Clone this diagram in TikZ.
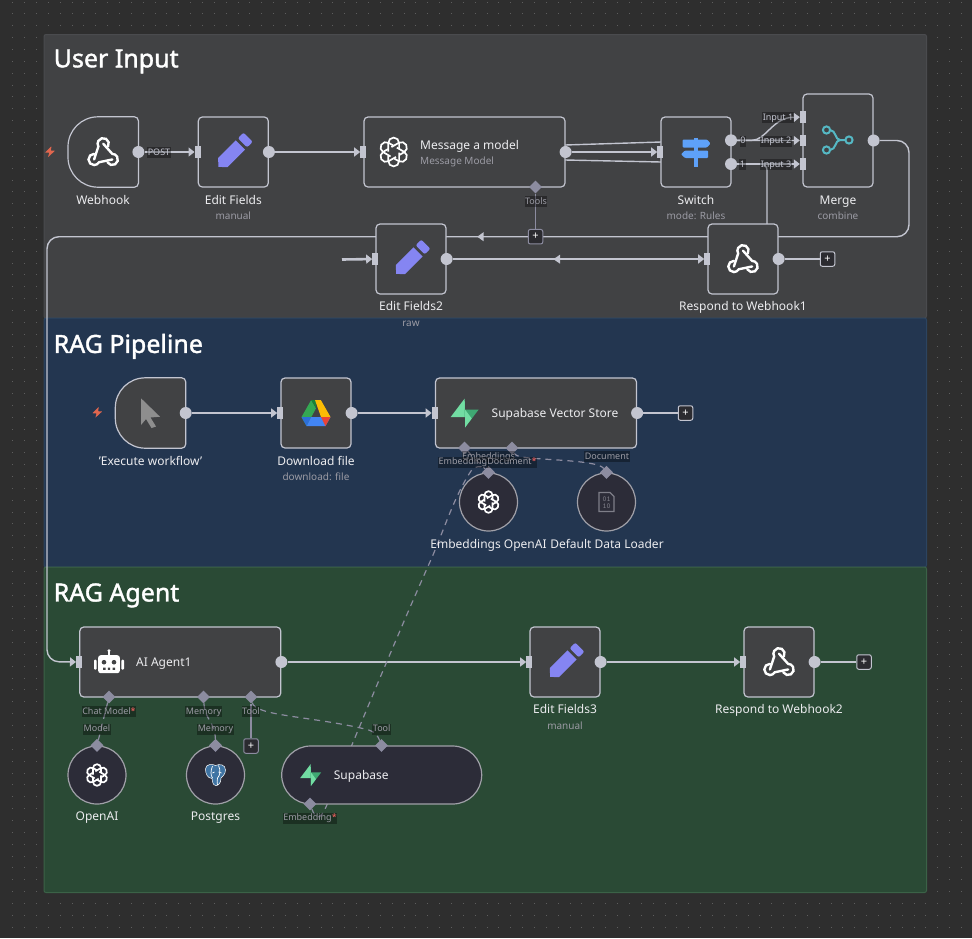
\documentclass[tikz,border=0pt]{standalone}
\usepackage{fontspec}
\setmainfont{Noto Sans}
\newfontfamily\titlefont[FakeBold=1.5]{Noto Sans}
\usetikzlibrary{arrows.meta,shapes.geometric,calc}
\definecolor{canvasc}{HTML}{2E2E2E}
\definecolor{dotc}{HTML}{5E5E5E}
\definecolor{greyp}{HTML}{414244}
\definecolor{bluep}{HTML}{233650}
\definecolor{greenp}{HTML}{2A4A35}
\definecolor{greyb}{HTML}{4A4B4E}
\definecolor{blueb}{HTML}{2C4460}
\definecolor{greenb}{HTML}{3B6247}
\definecolor{linec}{HTML}{C3C5D0}
\definecolor{subc}{HTML}{9B9BA4}
\definecolor{txtc}{HTML}{ECECEF}
\definecolor{auxc}{HTML}{8C8CA0}
\definecolor{circc}{HTML}{2C2C38}
\definecolor{circb}{HTML}{A0A0A8}
\definecolor{plusc}{HTML}{2B2B30}
\definecolor{pencilc}{HTML}{8585F2}
\definecolor{signc}{HTML}{5EA1F9}
\definecolor{mergec}{HTML}{55B8C4}
\definecolor{boltc}{HTML}{E0664E}
\definecolor{sbl}{HTML}{72DDA3}
\definecolor{sbd}{HTML}{3FA873}
\definecolor{pgc}{HTML}{3F74A3}
\definecolor{cursc}{HTML}{8E8E8E}
\definecolor{binc}{HTML}{7E7E88}
\definecolor{starc}{HTML}{FF6262}
\definecolor{drg}{HTML}{34A853}
\definecolor{drgd}{HTML}{188038}
\definecolor{dry}{HTML}{FBBC04}
\definecolor{drb}{HTML}{4285F4}
\definecolor{drr}{HTML}{EA4335}
\definecolor{drbd}{HTML}{2D6FD8}
\pgfdeclarelayer{panelzone}
\pgfdeclarelayer{flowzone}
\pgfdeclarelayer{topzone}
\pgfsetlayers{panelzone,flowzone,main,topzone}
\newcommand{\triggershape}[1]{\draw[shapeline] ($(#1.north east)+(-4,0)$) arc[start angle=90,end angle=0,radius=4pt] -- ($(#1.south east)+(0,-4)$) arc[start angle=0,end angle=-90,radius=4pt] -- ($(#1.south west)+(30,0)$) arc[start angle=270,end angle=180,radius=30pt] -- ($(#1.north west)+(0,30)$) arc[start angle=180,end angle=90,radius=30pt] -- cycle;}
\tikzset{
  x=1pt,y=-1pt,
  panel/.style={line width=1pt,rounded corners=2pt},
  paneltitle/.style={anchor=west,inner sep=0,yshift=-2.4pt,text=white,font=\titlefont\fontsize{25}{28}\selectfont},
  card/.style={rectangle,draw=linec,line width=1.2pt,fill=greyp,rounded corners=4pt,minimum width=70pt,minimum height=70pt,inner sep=0},
  ghost/.style={rectangle,minimum width=70pt,minimum height=70pt,inner sep=0},
  shapeline/.style={draw=linec,line width=1.2pt,fill=greyp},
  roundnode/.style={circle,draw=circb,line width=1.2pt,fill=circc,minimum size=58pt,inner sep=0},
  outport/.style={circle,fill=linec,minimum size=12pt,inner sep=0},
  inport/.style={rectangle,fill=linec,minimum width=6pt,minimum height=11.5pt,inner sep=0},
  auxport/.style={diamond,fill=auxc,minimum width=13pt,minimum height=13pt,inner sep=0},
  plusbox/.style={rectangle,draw=linec,line width=1pt,fill=plusc,rounded corners=2pt,minimum size=14.5pt,inner sep=0,text=white,font=\fontsize{11}{11}\selectfont},
  flow/.style={draw=linec,line width=1.4pt},
  flowarrow/.style={flow,-{Triangle[length=6pt,width=9pt,fill=linec]}},
  thickflow/.style={draw=linec,line width=2.6pt,-{Triangle[length=6pt,width=9pt,fill=linec]}},
  auxsolid/.style={draw=auxc,line width=1.3pt},
  auxdash/.style={draw=auxc,line width=1.2pt,dash pattern=on 6pt off 5pt},
  lbl/.style={inner sep=0,text height=8.6pt,text depth=0pt,text=txtc,font=\fontsize{12}{14}\selectfont},
  sublbl/.style={inner sep=0,text height=7.2pt,text depth=0pt,text=subc,font=\fontsize{10}{12}\selectfont},
  portlab/.style={inner xsep=0.5pt,inner ysep=1pt,text height=7pt,text depth=2pt,yshift=-0.7pt,fill=black,fill opacity=.35,text opacity=1,text=subc,font=\fontsize{9}{10}\selectfont},
  flowlab/.style={inner xsep=0.5pt,inner ysep=1pt,text height=7pt,text depth=2pt,yshift=-0.7pt,fill=black,fill opacity=.35,text opacity=1,text=linec,font=\fontsize{9}{10}\selectfont},
  webicon/.pic={
    \foreach \a in {0,120,240}{
      \begin{scope}[shift={(0,2.2)},rotate=\a]
        \draw[white,line width=2.4pt,line cap=round] (4.85,-7.7) arc[start angle=-30,end angle=210,radius=5.6pt] -- (-9.1,5.25);
      \end{scope}
    }
  },
  pencilicon/.pic={
    \begin{scope}[rotate=45]
      \fill[pencilc] (-21,0) -- (-15,-6.5) -- (10,-6.5) -- (10,6.5) -- (-15,6.5) -- cycle;
      \fill[pencilc,rounded corners=2pt] (13,-6.5) -- (21,-6.5) -- (21,6.5) -- (13,6.5) -- cycle;
    \end{scope}
  },
  knoticon/.pic={
    \foreach \a in {0,60,120,180,240,300}{
      \begin{scope}[rotate=\a]
        \draw[white,line width=1.7pt] (-5.4,-0.5) -- (-5.4,-9) arc[start angle=180,end angle=0,radius=5.4pt] -- (5.4,-3.5);
      \end{scope}
    }
  },
  signicon/.pic={
    \fill[signc] (-1.7,-14.5) rectangle (1.7,14.5);
    \fill[signc,rounded corners=1pt] (-13.5,-12.5) -- (11,-12.5) -- (14.5,-8.5) -- (11,-4.5) -- (-13.5,-4.5) -- cycle;
    \fill[signc,rounded corners=1pt] (12,-1.5) -- (-11,-1.5) -- (-15,2.3) -- (-11,6) -- (12,6) -- cycle;
  },
  mergeicon/.pic={
    \draw[mergec,line width=2pt] (-11.5,-10) circle[radius=3.6pt] (-11.5,10) circle[radius=3.6pt] (11,0) circle[radius=3.6pt];
    \draw[mergec,line width=2pt] (-8,-10) .. controls (-2,-10) and (-3,0) .. (2,0) -- (7.4,0);
    \draw[mergec,line width=2pt] (-8,10) .. controls (-2,10) and (-3,0) .. (2,0);
  },
  sbicon/.pic={
    \fill[sbl] (0,-14.5) -- (-14,4) -- (0.3,4) -- cycle;
    \fill[sbd] (0,-14.5) -- (0,4) -- (0.3,4) -- (0.3,-3.5) -- (0,-3.5) -- cycle;
    \fill[sbd] (0.3,14.5) -- (14,-3.5) -- (0.3,-3.5) -- cycle;
    \fill[sbl] (0.3,14.5) -- (7,5.5) -- (0.3,-3.5) -- cycle;
  },
  cursoricon/.pic={
    \fill[cursc] (-9.5,-14.7) -- (9.5,3.7) -- (0,4.5) -- (5.5,13.5) -- (1,15) -- (-4.5,6) -- (-9.5,12) -- cycle;
  },
  driveicon/.pic={
    \fill[drg] (-4.8,-13) -- (0,-4.7) -- (-9.5,13) -- (-14.5,4) -- cycle;
    \fill[drgd] (-4.8,-13) -- (0,-13) -- (0,-4.7) -- cycle;
    \fill[dry] (-1,-13) -- (4.8,-13) -- (14.5,4) -- (5,4) -- cycle;
    \fill[drb] (-5,4) -- (14.5,4) -- (9.5,13) -- (-9.5,13) -- cycle;
    \fill[drr] (5,4) -- (14.5,4) -- (9.5,13) -- cycle;
    \fill[drbd] (-14.5,4) -- (-5,4) -- (-9.5,13) -- cycle;
  },
  roboticon/.pic={
    \fill[white,rounded corners=2.5pt] (-10.8,-6.5) rectangle (10.8,11.5);
    \fill[white] (-1,-11) rectangle (1,-5);
    \fill[white] (0,-11) circle[radius=1.6pt];
    \fill[white,rounded corners=1pt] (-15,-2) rectangle (-12.3,8);
    \fill[white,rounded corners=1pt] (12.3,-2) rectangle (15,8);
    \fill[greyp] (-5,0.5) circle[radius=2.3pt] (5,0.5) circle[radius=2.3pt];
    \fill[greyp] (-6,6) rectangle (-3.5,8.2) (-1.2,6) rectangle (1.2,8.2) (3.5,6) rectangle (6,8.2);
  },
  pgicon/.pic={
    \filldraw[fill=pgc,draw=white,line width=.5pt] (-10,-6) .. controls (-10,-11) and (-3,-11.5) .. (0,-9.5) .. controls (4,-11.5) and (10,-10.5) .. (10,-5) .. controls (10,0) and (6,2) .. (5.5,3) .. controls (5.5,8) and (3,10.5) .. (0.5,10.5) .. controls (-3,10.5) and (-3,6) .. (-3.5,3.5) .. controls (-8,3) and (-10,-1) .. (-10,-6) -- cycle;
    \draw[white,line width=.7pt] (-3,-9) .. controls (-5,-4) and (-5,0) .. (-3,3) (3,-9.5) .. controls (5,-5) and (5,0) .. (2,3) .. controls (1,6) and (2,8) .. (2,10) (-3,-2) -- (-1,-3) (3,-3) -- (6,-2);
  },
  binicon/.pic={
    \draw[binc,line width=1.2pt] (-7.5,-9.5) -- (3.5,-9.5) -- (7.5,-5.5) -- (7.5,9.5) -- (-7.5,9.5) -- cycle;
    \node[inner sep=0,text=binc,font=\ttfamily\bfseries\fontsize{7.5}{7.5}\selectfont,align=center] at (0,0.5) {01\\[-0.5pt]10};
  },
  sparkicon/.pic={
    \fill[boltc,rounded corners=.5pt] (1.5,-5.5) -- (-5,1) -- (-0.7,1) -- (-2,5.5) -- (5,-1) -- (0.8,-1) -- cycle;
  },
}
\begin{document}
\begin{tikzpicture}
\useasboundingbox (0,0) rectangle (972,938);
\begin{pgfonlayer}{panelzone}
  \fill[canvasc] (0,0) rectangle (972,938);
  \foreach \i in {0,...,81}{
    \foreach \j in {0,...,78}{
      \fill[dotc] ({12.2+11.86*\i},{1.6+11.86*\j}) rectangle ++(1,1);
    }
  }
  \filldraw[panel,fill=greyp,draw=greyb] (44,34.5) rectangle (926.5,318);
  \filldraw[panel,fill=bluep,draw=blueb] (44,318) rectangle (926.5,567);
  \filldraw[panel,fill=greenp,draw=greenb] (44,567) rectangle (926.5,892.5);
\end{pgfonlayer}
\node[paneltitle] (t1) at (53.5,59) {User Input};
\node[paneltitle] (t2) at (53.5,344) {RAG Pipeline};
\node[paneltitle] (t3) at (53.5,593) {RAG Agent};
% cards
\node[ghost] (wh) at (103.2,152) {};
\triggershape{wh}
\node[card] (ef) at (233.3,152) {};
\node[card,minimum width=201pt] (msg) at (464.5,152) {};
\node[card] (sw) at (696,152) {};
\node[card,minimum height=93pt] (mg) at (838,140.5) {};
\node[card] (rw1) at (743,259) {};
\node[card] (ef2) at (411,259) {};
\node[ghost] (ex) at (150.5,413) {};
\triggershape{ex}
\node[card] (dl) at (316,413) {};
\node[card,minimum width=201pt] (svs) at (536,413) {};
\node[roundnode] (emb) at (488.5,502) {};
\node[roundnode] (ddl) at (606.5,502) {};
\node[card,minimum width=201pt] (ag) at (180.3,662) {};
\node[card] (ef3) at (565,662) {};
\node[card] (rw2) at (779,662) {};
\node[roundnode] (oa) at (97,775) {};
\node[roundnode] (pg) at (215.5,775) {};
\node[rectangle,draw=circb,line width=1.2pt,fill=circc,rounded corners=29pt,minimum width=200pt,minimum height=58pt,inner sep=0] (sb) at (381.7,775) {};
% icons
\pic at (wh) {webicon};
\pic at (rw1) {webicon};
\pic at (rw2) {webicon};
\pic at (ef) {pencilicon};
\pic at (ef2) {pencilicon};
\pic at (ef3) {pencilicon};
\pic at (393.7,152) {knoticon};
\pic[scale=.75] at (emb) {knoticon};
\pic[scale=.75] at (oa) {knoticon};
\pic at (sw) {signicon};
\pic at (838,140) {mergeicon};
\pic at (464.7,413) {sbicon};
\pic[scale=.75] at (310.7,775) {sbicon};
\pic at (ex) {cursoricon};
\pic at (dl) {driveicon};
\pic at (109,661.7) {roboticon};
\pic at (pg) {pgicon};
\pic at (ddl) {binicon};
\pic at (50,151.7) {sparkicon};
\pic at (97.3,412.3) {sparkicon};
% ports
\node[outport] (wh-o) at (wh.east) {};
\node[inport] (ef-i) at (ef.west) {};
\node[outport] (ef-o) at (ef.east) {};
\node[inport] (msg-i) at (msg.west) {};
\node[outport] (msg-o) at (msg.east) {};
\node[auxport] (msg-t) at (535.5,187) {};
\node[inport] (sw-i) at (sw.west) {};
\node[outport] (sw-0) at (731,140.3) {};
\node[outport] (sw-1) at (731,164) {};
\node[inport] (mg-1) at (803,117) {};
\node[inport] (mg-2) at (803,140.5) {};
\node[inport] (mg-3) at (803,164) {};
\node[outport] (mg-o) at (mg.east) {};
\node[inport] (rw1-i) at (rw1.west) {};
\node[outport] (rw1-o) at (rw1.east) {};
\node[inport] (ef2-i) at (ef2.west) {};
\node[outport] (ef2-o) at (ef2.east) {};
\node[outport] (ex-o) at (ex.east) {};
\node[inport] (dl-i) at (dl.west) {};
\node[outport] (dl-o) at (dl.east) {};
\node[inport] (svs-i) at (svs.west) {};
\node[outport] (svs-o) at (svs.east) {};
\node[auxport] (svs-e) at (464.5,448) {};
\node[auxport] (svs-d) at (512,448) {};
\node[auxport] (emb-t) at (emb.north) {};
\node[auxport] (ddl-t) at (ddl.north) {};
\node[inport] (ag-i) at (ag.west) {};
\node[outport] (ag-o) at (ag.east) {};
\node[auxport] (ag-c) at (109,697) {};
\node[auxport] (ag-m) at (203.5,697) {};
\node[auxport] (ag-t) at (251,697) {};
\node[inport] (ef3-i) at (ef3.west) {};
\node[outport] (ef3-o) at (ef3.east) {};
\node[inport] (rw2-i) at (rw2.west) {};
\node[outport] (rw2-o) at (rw2.east) {};
\node[auxport] (oa-t) at (oa.north) {};
\node[auxport] (pg-t) at (pg.north) {};
\node[auxport] (sb-t) at (381.5,745.5) {};
\node[auxport] (sb-e) at (310,804) {};
% plus boxes
\node[plusbox,draw=auxc] (pl-t) at (535.5,236.7) {+};
\node[plusbox] (pl-1) at (827.5,259) {+};
\node[plusbox] (pl-2) at (685.5,413) {+};
\node[plusbox] (pl-3) at (864,662) {+};
\node[plusbox,draw=auxc] (pl-4) at (251,746) {+};
\coordinate (msg-a) at (565,145);
\coordinate (msg-b) at (565,160);
\coordinate (sw-a) at (661,142);
\coordinate (sw-b) at (661,162);
\coordinate (ef2-stub) at (342,259.5);
\coordinate (rw1-top) at (767,224);
% connectors
\begin{pgfonlayer}{flowzone}
  \draw[flowarrow] (wh-o) -- (ef-i);
  \draw[flowarrow] (ef-o) -- (msg-i);
  \draw[flowarrow] (msg-o) -- (sw-i);
  \draw[flow] (msg-a) -- (sw-a);
  \draw[flow] (msg-b) -- (sw-b);
  \draw[flowarrow] (sw-0) -- (752,140.3) .. controls (765,140.3) and (772,120) .. (790,117.5) -- (mg-1);
  \draw[flowarrow] (sw-0) -- (mg-2);
  \draw[flowarrow] (sw-1) -- (mg-3);
  \draw[flow,rounded corners=6pt] (sw-1) -- (767,164) -- (rw1-top);
  \draw[flowarrow,rounded corners=12pt] (mg-o) -- (909,140.5) -- (909,236.7) -- (47,236.7) -- (47,661.7) -- (ag-i);
  \draw[thickflow] (ef2-o) -- (rw1-i);
  \draw[thickflow] (ef2-stub) -- (ef2-i);
  \fill[linec] (553.5,259.2) -- (560,254.7) -- (560,263.7) -- cycle;
  \fill[linec] (477.3,236.7) -- (483.5,232.2) -- (483.5,241.2) -- cycle;
  \draw[flow] (rw1-o) -- (pl-1);
  \draw[flowarrow] (ex-o) -- (dl-i);
  \draw[flowarrow] (dl-o) -- (svs-i);
  \draw[flow] (svs-o) -- (pl-2);
  \draw[flowarrow] (ag-o) -- (ef3-i);
  \draw[flowarrow] (ef3-o) -- (rw2-i);
  \draw[flow] (rw2-o) -- (pl-3);
  \draw[auxsolid] (msg-t) -- (pl-t);
  \draw[auxsolid] (ag-t) -- (pl-4);
  \draw[auxdash] (svs-e) -- (emb-t);
  \draw[auxdash] (svs-d) .. controls (516,458) and (530,458) .. (550,459.5) .. controls (575,461) and (600,463) .. (ddl-t);
  \draw[auxdash] (ag-c) -- (oa-t);
  \draw[auxdash] (ag-m) .. controls (205,720) and (215,722) .. (pg-t);
  \draw[auxdash] (ag-t) .. controls (255,716) and (310,716) .. (365,729) .. controls (375,731) and (378,736) .. (sb-t);
  \draw[auxdash] (sb-e) .. controls (316,820) and (320,820) .. (326,807) .. controls (350,750) and (395,640) .. (431.7,558) .. controls (445,527) and (455,495) .. (471,471) .. controls (474,466) and (482,465) .. (emb-t);
\end{pgfonlayer}
% names
\begin{pgfonlayer}{topzone}
\node[lbl] (n1) at (103,199.7) {Webhook};
\node[lbl] (n2) at (233.3,199.7) {Edit Fields};
\node[sublbl] (s2) at (233.3,215.5) {manual};
\node[lbl,anchor=west] (n3) at (420,145) {Message a model};
\node[sublbl,anchor=west] (s3) at (420,160.7) {Message Model};
\node[lbl] (n4) at (696,199.7) {Switch};
\node[sublbl] (s4) at (696,215.5) {mode: Rules};
\node[lbl] (n5) at (838,199.7) {Merge};
\node[sublbl] (s5) at (838,215.5) {combine};
\node[lbl] (n6) at (411,306) {Edit Fields2};
\node[sublbl] (s6) at (411,322.7) {raw};
\node[lbl] (n7) at (743,306) {Respond to Webhook1};
\node[lbl] (n8) at (150.5,461) {'Execute workflow'};
\node[lbl] (n9) at (316,461) {Download file};
\node[sublbl] (s9) at (316,477) {download: file};
\node[lbl,anchor=west] (n10) at (491.5,413) {Supabase Vector Store};
\node[lbl] (n11) at (488.5,544) {Embeddings OpenAI};
\node[lbl] (n12) at (607,544) {Default Data Loader};
\node[lbl,anchor=west] (n13) at (136,662) {AI Agent1};
\node[lbl] (n14) at (565,709) {Edit Fields3};
\node[sublbl] (s14) at (565,726) {manual};
\node[lbl] (n15) at (779,709) {Respond to Webhook2};
\node[lbl] (n16) at (97,816) {OpenAI};
\node[lbl] (n17) at (215.5,816) {Postgres};
\node[lbl,anchor=west] (n18) at (333.7,775) {Supabase};
% port labels
\node[flowlab] (l1) at (159,152) {POST};
\node[flowlab] (l2) at (743,140.3) {0};
\node[flowlab] (l3) at (742.5,164) {1};
\node[flowlab] (l4) at (778,117) {Input 1};
\node[flowlab] (l5) at (776,140.3) {Input 2};
\node[flowlab] (l6) at (776,164) {Input 3};
\node[portlab] (l7) at (536,201) {Tools};
\node[portlab] (l8) at (488.5,456) {Embeddings};
\node[portlab] (l9) at (463,461.7) {Embedding};
\node[portlab] (l10) at (512,461.7) {Document\textcolor{starc}{*}};
\node[portlab] (l11) at (607,456) {Document};
\node[portlab] (l12) at (109,711) {Chat Model\textcolor{starc}{*}};
\node[portlab] (l13) at (203.7,711) {Memory};
\node[portlab] (l14) at (251,711) {Tool};
\node[portlab] (l15) at (97,728.7) {Model};
\node[portlab] (l16) at (215.5,728.7) {Memory};
\node[portlab] (l17) at (381.7,728.7) {Tool};
\node[portlab] (l18) at (310,817.7) {Embedding\textcolor{starc}{*}};
\end{pgfonlayer}
\end{tikzpicture}
\end{document}
